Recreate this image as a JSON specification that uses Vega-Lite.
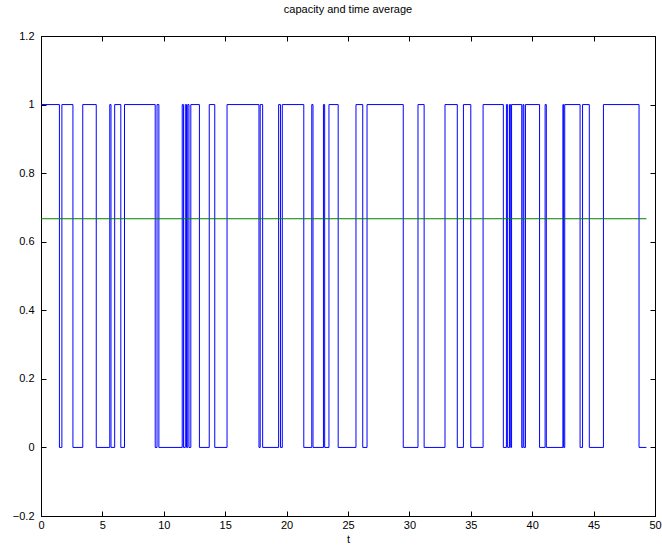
{
  "$schema": "https://vega.github.io/schema/vega-lite/v6.json",
  "width": 614,
  "height": 480,
  "autosize": {"type": "none"},
  "padding": {"left": 41, "top": 36, "right": 7, "bottom": 33},
  "background": "white",
  "title": {
    "text": "capacity and time average",
    "fontSize": 11,
    "fontWeight": "normal",
    "font": "Liberation Sans",
    "color": "black",
    "offset": 15
  },
  "datasets": {
    "capacity": [
      {"t": 0, "c": 1}, {"t": 1.5, "c": 0}, {"t": 1.7, "c": 1}, {"t": 2.6, "c": 0},
      {"t": 3.4, "c": 1}, {"t": 4.5, "c": 0}, {"t": 5.6, "c": 1}, {"t": 5.7, "c": 0},
      {"t": 6.0, "c": 1}, {"t": 6.5, "c": 0}, {"t": 6.8, "c": 1}, {"t": 9.3, "c": 0},
      {"t": 9.45, "c": 1}, {"t": 9.6, "c": 0}, {"t": 11.5, "c": 1}, {"t": 11.6, "c": 0},
      {"t": 11.75, "c": 1}, {"t": 11.85, "c": 0}, {"t": 11.95, "c": 1}, {"t": 12.05, "c": 0},
      {"t": 12.2, "c": 1}, {"t": 12.9, "c": 0}, {"t": 13.7, "c": 1}, {"t": 14.15, "c": 0},
      {"t": 15.15, "c": 1}, {"t": 17.75, "c": 0}, {"t": 17.85, "c": 1}, {"t": 18.05, "c": 0},
      {"t": 19.35, "c": 1}, {"t": 19.5, "c": 0}, {"t": 19.65, "c": 1}, {"t": 21.4, "c": 0},
      {"t": 22.05, "c": 1}, {"t": 22.15, "c": 0}, {"t": 23.0, "c": 1}, {"t": 23.1, "c": 0},
      {"t": 23.45, "c": 1}, {"t": 24.2, "c": 0}, {"t": 25.65, "c": 1}, {"t": 26.2, "c": 0},
      {"t": 26.55, "c": 1}, {"t": 29.5, "c": 0}, {"t": 30.7, "c": 1}, {"t": 31.2, "c": 0},
      {"t": 32.9, "c": 1}, {"t": 33.9, "c": 0}, {"t": 34.4, "c": 1}, {"t": 35.0, "c": 0},
      {"t": 36.0, "c": 1}, {"t": 37.65, "c": 0}, {"t": 37.9, "c": 1}, {"t": 38.0, "c": 0},
      {"t": 38.15, "c": 1}, {"t": 38.25, "c": 0}, {"t": 38.32, "c": 1}, {"t": 39.15, "c": 0},
      {"t": 39.25, "c": 1}, {"t": 39.32, "c": 0}, {"t": 39.45, "c": 1}, {"t": 40.6, "c": 0},
      {"t": 41.05, "c": 1}, {"t": 41.15, "c": 0}, {"t": 42.5, "c": 1}, {"t": 42.56, "c": 0},
      {"t": 42.65, "c": 1}, {"t": 43.9, "c": 0}, {"t": 44.1, "c": 1}, {"t": 44.65, "c": 0},
      {"t": 45.8, "c": 1}, {"t": 48.7, "c": 0}, {"t": 49.3, "c": 0}
    ],
    "average": [
      {"t": 0, "avg": 0.667},
      {"t": 49.3, "avg": 0.667}
    ]
  },
  "config": {
    "view": {"stroke": "black", "strokeWidth": 1},
    "axis": {
      "grid": false,
      "domainColor": "black",
      "tickColor": "black",
      "tickSize": -5,
      "labelColor": "black",
      "labelFont": "Liberation Sans",
      "labelFontSize": 11,
      "titleFont": "Liberation Sans",
      "titleFontSize": 11,
      "titleFontWeight": "normal",
      "titleColor": "black"
    }
  },
  "layer": [
    {
      "data": {"name": "capacity"},
      "mark": {"type": "line", "interpolate": "step-after", "color": "#0000ff", "strokeWidth": 1},
      "encoding": {
        "x": {
          "field": "t", "type": "quantitative",
          "scale": {"domain": [0, 50], "nice": false, "zero": false},
          "axis": {
            "orient": "bottom",
            "title": "t",
            "values": [0, 5, 10, 15, 20, 25, 30, 35, 40, 45, 50],
            "format": "~g",
            "labelPadding": 8,
            "titlePadding": 3,
            "labelFlush": false,
            "labelOverlap": false
          }
        },
        "y": {
          "field": "c", "type": "quantitative",
          "scale": {"domain": [-0.2, 1.2], "nice": false, "zero": false},
          "axis": {
            "orient": "left",
            "title": null,
            "values": [-0.2, 0, 0.2, 0.4, 0.6, 0.8, 1, 1.2],
            "format": "~g",
            "labelPadding": 12,
            "labelFlush": false,
            "labelOverlap": false
          }
        }
      }
    },
    {
      "data": {"name": "average"},
      "mark": {"type": "line", "color": "#007f00", "strokeWidth": 1},
      "encoding": {
        "x": {
          "field": "t", "type": "quantitative",
          "axis": {
            "orient": "top",
            "title": null,
            "labels": false,
            "values": [0, 5, 10, 15, 20, 25, 30, 35, 40, 45, 50]
          }
        },
        "y": {
          "field": "avg", "type": "quantitative",
          "axis": {
            "orient": "right",
            "title": null,
            "labels": false,
            "values": [-0.2, 0, 0.2, 0.4, 0.6, 0.8, 1, 1.2]
          }
        }
      }
    }
  ],
  "resolve": {"axis": {"x": "independent", "y": "independent"}}
}
